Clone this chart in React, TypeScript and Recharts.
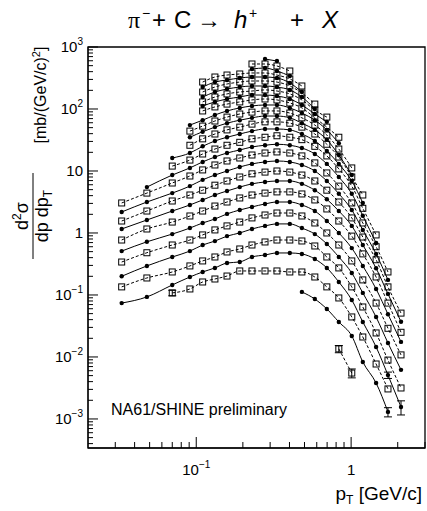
import React from "react";
import { LineChart, Line, XAxis, YAxis, ReferenceArea, ErrorBar } from "recharts";

// pT bin positions (GeV/c)
const PT = [
  0.033, 0.048, 0.07, 0.091, 0.11, 0.132, 0.158, 0.191, 0.229, 0.278, 0.332,
  0.402, 0.481, 0.583, 0.697, 0.833, 1.01, 1.19, 1.45, 1.73, 2.1,
];

// spectra, bottom of the plot to top; "start" is the first pT bin index
const openB = [0.0135, 0.0055];
const fullA = [0.112, 0.086, 0.0595, 0.0367, 0.0218, 0.0083, 0.0038, 0.0013];
const openX = [
  0.108, 0.125, 0.162, 0.181, 0.202, 0.244, 0.244, 0.244, 0.244, 0.235, 0.235,
  0.195, 0.135, 0.0895, 0.0442, 0.021, 0.0077, 0.00305,
];
const full0 = [
  0.074, 0.093, 0.145, 0.195, 0.235, 0.273, 0.328, 0.341, 0.41, 0.442, 0.476,
  0.476, 0.459, 0.381, 0.273, 0.162, 0.083, 0.0367, 0.0145, 0.0051, 0.00156,
];
const open1 = [
  0.135, 0.188, 0.235, 0.294, 0.354, 0.41, 0.494, 0.552, 0.64, 0.716, 0.77,
  0.77, 0.743, 0.617, 0.41, 0.273, 0.135, 0.064, 0.0244, 0.0089, 0.00316,
];
const full2 = [
  0.2, 0.294, 0.41, 0.51, 0.64, 0.74, 0.89, 1.0, 1.16, 1.3, 1.4, 1.4, 1.2,
  0.96, 0.665, 0.41, 0.226, 0.108, 0.044, 0.0168, 0.0062,
];
const open3 = [
  0.34, 0.48, 0.64, 0.77, 0.93, 1.12, 1.3, 1.5, 1.75, 1.95, 2.1, 2.1, 1.88,
  1.45, 1.0, 0.64, 0.354, 0.175, 0.074, 0.029, 0.0108,
];
const full4 = [
  0.51, 0.72, 0.96, 1.2, 1.45, 1.68, 2.03, 2.35, 2.63, 2.94, 3.16, 3.16, 2.83,
  2.26, 1.56, 1.0, 0.57, 0.294, 0.125, 0.049, 0.0175,
];
const open5 = [
  0.77, 1.16, 1.5, 1.88, 2.26, 2.72, 3.16, 3.67, 4.1, 4.4, 4.6, 4.6, 4.26, 3.41,
  2.44, 1.56, 0.89, 0.46, 0.195, 0.074, 0.025,
];
const full6 = [
  1.16, 1.62, 2.26, 2.83, 3.41, 4.1, 4.76, 5.5, 6.2, 6.65, 6.9, 6.9, 6.2, 4.9,
  3.5, 2.26, 1.3, 0.64, 0.27, 0.104, 0.037,
];
const open7 = [
  1.56, 2.26, 3.28, 4.1, 4.9, 5.9, 6.9, 8.0, 9.0, 9.6, 10, 9.6, 8.6, 6.9, 4.9,
  3.16, 1.75, 0.86, 0.37, 0.135, 0.051,
];
const full8 = [
  2.18, 3.16, 4.4, 5.7, 7.2, 8.6, 10, 11.6, 13, 14, 14.5, 14, 12.5, 10, 6.9,
  4.3, 2.35, 1.12, 0.46, 0.175,
];
const open9 = [
  3.05, 4.4, 6.4, 8.3, 10.4, 12.5, 14.5, 16.2, 18.1, 19.5, 20.3, 19.5, 17.5,
  13.5, 9.3, 5.7, 3.05, 1.45, 0.6, 0.235,
];
const full10 = [
  5.5, 8.6, 11.2, 14, 16.8, 19.5, 21.8, 24.4, 26, 27, 26, 23.5, 18.8, 13, 8.0,
  4.3, 1.9, 0.69,
];
const open11 = [
  12, 15, 18.8, 22.6, 26, 29, 33, 35, 37, 35, 32, 25, 17.5, 10.8, 5.7, 2.5,
  0.93,
];
const full12 = [
  16.2, 19.5, 25, 30.5, 35, 39.5, 44, 47.6, 47.6, 46, 39.5, 30.5, 21, 13, 6.9,
  3.05,
];
const open13 = [26, 33, 39.5, 46, 51, 57, 62, 62, 59, 51, 39.5, 27, 16.8, 8.0, 4.1];
const full14 = [35, 43, 51, 59, 66, 72, 77, 77, 72, 59, 46, 32, 18.1, 8.6];
const open15 = [44, 53, 64, 74, 83, 89, 93, 93, 86, 72, 55, 38, 22.6, 11.2];
const full16 = [55, 66, 80, 93, 104, 112, 116, 116, 104, 86, 66, 46, 28];
const open17 = [93, 108, 120, 130, 140, 145, 140, 125, 104, 72, 51, 35];
const full18 = [112, 130, 145, 156, 168, 168, 162, 145, 116, 83, 62];
const open19 = [130, 156, 175, 188, 195, 203, 195, 175, 140, 96, 74];
const full20 = [156, 188, 210, 226, 235, 235, 226, 203, 156, 100];
const open21 = [188, 226, 253, 272, 283, 283, 272, 235, 181, 120];
const full22 = [226, 272, 294, 316, 328, 328, 316, 263, 188];
const open23 = [272, 328, 353, 367, 381, 381, 353, 305, 235];
const full24 = [442, 458, 410, 341];
const open25 = [532, 532, 494, 410];
const full26 = [640, 594];

// visible error bars (same indexing as the values; null = too small to see)
const errB = [0.0018, 0.0009];
const errA = [null, null, null, null, null, null, null, 0.00022];
const errX = [0.011];
const err0 = [null, null, null, null, null, null, null, null, null, null, null,
  null, null, null, null, null, null, null, null, 0.0006, 0.0004];

const SERIES = [
  { key: "b", start: 15, values: openB, open: true, err: errB },
  { key: "a", start: 12, values: fullA, open: false, err: errA },
  { key: "x", start: 2, values: openX, open: true, err: errX },
  { key: "s0", start: 0, values: full0, open: false, err: err0 },
  { key: "s1", start: 0, values: open1, open: true },
  { key: "s2", start: 0, values: full2, open: false },
  { key: "s3", start: 0, values: open3, open: true },
  { key: "s4", start: 0, values: full4, open: false },
  { key: "s5", start: 0, values: open5, open: true },
  { key: "s6", start: 0, values: full6, open: false },
  { key: "s7", start: 0, values: open7, open: true },
  { key: "s8", start: 0, values: full8, open: false },
  { key: "s9", start: 0, values: open9, open: true },
  { key: "s10", start: 1, values: full10, open: false },
  { key: "s11", start: 2, values: open11, open: true },
  { key: "s12", start: 2, values: full12, open: false },
  { key: "s13", start: 3, values: open13, open: true },
  { key: "s14", start: 3, values: full14, open: false },
  { key: "s15", start: 3, values: open15, open: true },
  { key: "s16", start: 3, values: full16, open: false },
  { key: "s17", start: 4, values: open17, open: true },
  { key: "s18", start: 4, values: full18, open: false },
  { key: "s19", start: 4, values: open19, open: true },
  { key: "s20", start: 4, values: full20, open: false },
  { key: "s21", start: 4, values: open21, open: true },
  { key: "s22", start: 4, values: full22, open: false },
  { key: "s23", start: 4, values: open23, open: true },
  { key: "s24", start: 8, values: full24, open: false },
  { key: "s25", start: 8, values: open25, open: true },
  { key: "s26", start: 9, values: full26, open: false },
];

const X_MAJOR = [0.1, 1];
const X_LABELS = [["10", "-1"], ["1", ""]];
const X_TICKS = [
  0.03, 0.04, 0.05, 0.06, 0.07, 0.08, 0.09, 0.1, 0.2, 0.3, 0.4, 0.5, 0.6, 0.7,
  0.8, 0.9, 1, 2, 3,
];
const Y_MAJOR = [1e-3, 1e-2, 1e-1, 1, 10, 100, 1000];
const Y_LABELS = [
  ["10", "-3"], ["10", "-2"], ["10", "-1"], ["1", ""], ["10", ""], ["10", "2"], ["10", "3"],
];
const Y_TICKS = [0.0004, 0.0005, 0.0006, 0.0007, 0.0008, 0.0009].concat(
  ...[-3, -2, -1, 0, 1, 2].map((e) =>
    [1, 2, 3, 4, 5, 6, 7, 8, 9].map((m) => +(m * Math.pow(10, e)).toPrecision(3))
  ),
  [1000]
);

const FONT = "'Liberation Sans', Arial, sans-serif";

const data = PT.map((pt, i) => {
  const row: Record<string, number> = { pt };
  SERIES.forEach((s) => {
    const v = s.values[i - s.start];
    if (i >= s.start && v !== undefined) row[s.key] = v;
    const e = s.err ? s.err[i - s.start] : null;
    if (i >= s.start && e != null) row[s.key + "Err"] = e;
  });
  return row;
});

const majorIndex = (list: number[], v: number) =>
  list.findIndex((m) => Math.abs(m - v) / m < 1e-6);

function YTick(props: any) {
  const { x, y, payload } = props;
  const i = majorIndex(Y_MAJOR, payload.value);
  const [base, exp] = i >= 0 ? Y_LABELS[i] : ["", ""];
  return (
    <g>
      <line x1={88} x2={88 + (i >= 0 ? 10 : 5)} y1={y} y2={y} stroke="#000" />
      {i >= 0 && (
        <text x={x - 5} y={y + 5} textAnchor="end" fontFamily={FONT} fontSize={15} fill="#000">
          {base}
          {exp && (
            <tspan dy={-7} fontSize={10}>
              {exp.replace("-", "\u2212")}
            </tspan>
          )}
        </text>
      )}
    </g>
  );
}

function XTick(props: any) {
  const { x, y, payload } = props;
  const i = majorIndex(X_MAJOR, payload.value);
  const [base, exp] = i >= 0 ? X_LABELS[i] : ["", ""];
  return (
    <g>
      <line x1={x} x2={x} y1={448} y2={448 - (i >= 0 ? 11 : 6)} stroke="#000" />
      {i >= 0 && (
        <text x={x} y={y + 27} textAnchor="middle" fontFamily={FONT} fontSize={15} fill="#000">
          {base}
          {exp && (
            <tspan dy={-7} fontSize={10}>
              {exp.replace("-", "\u2212")}
            </tspan>
          )}
        </text>
      )}
    </g>
  );
}

const makeDot = (open: boolean) => (props: any) => {
  const { cx, cy, index, dataKey, payload } = props;
  const k = `${dataKey}-${index}`;
  if (cx == null || cy == null || payload?.[dataKey] == null) return <g key={k} />;
  return open ? (
    <rect key={k} x={cx - 3} y={cy - 3} width={6} height={6} fill="none" stroke="#000" strokeWidth={1} />
  ) : (
    <circle key={k} cx={cx} cy={cy} r={2.2} fill="#000" />
  );
};

// glyphs of the title, placed one by one as in the reference
const TITLE = [
  { t: "π", x: 128, y: 28, size: 24, serif: true },
  { t: "−", x: 142, y: 18, size: 14 },
  { t: "+", x: 152, y: 28, size: 24 },
  { t: "C", x: 174, y: 28, size: 24 },
  { t: "→", x: 197, y: 28, size: 24 },
  { t: "h", x: 234, y: 28, size: 24, italic: true },
  { t: "+", x: 249, y: 18, size: 14 },
  { t: "+", x: 290, y: 28, size: 24 },
  { t: "X", x: 322, y: 28, size: 24, italic: true },
];

export default function App() {
  return (
    <div style={{ position: "absolute", left: 0, top: 0, width: 427, height: 511, background: "#fff" }}>
      <LineChart width={427} height={511} data={data} margin={{ top: 47, right: 2, bottom: 0, left: 0 }}>
        <XAxis
          dataKey="pt"
          type="number"
          scale="log"
          domain={[0.02, 3]}
          allowDataOverflow
          ticks={X_TICKS}
          interval={0}
          height={63}
          tickSize={0}
          tickMargin={0}
          tickLine={false}
          tick={XTick}
          axisLine={{ stroke: "#000" }}
        />
        <YAxis
          type="number"
          scale="log"
          domain={[3.4e-4, 1000]}
          allowDataOverflow
          ticks={Y_TICKS}
          interval={0}
          width={88}
          tickSize={0}
          tickMargin={0}
          tickLine={false}
          tick={YTick}
          axisLine={{ stroke: "#000" }}
        />
        <ReferenceArea x1={0.02} x2={3} y1={3.4e-4} y2={1000} fill="none" stroke="#000" strokeWidth={1.3} ifOverflow="visible" />
        {SERIES.map((s) => (
          <Line
            key={s.key}
            dataKey={s.key}
            type="monotone"
            stroke="#000"
            strokeWidth={1}
            strokeDasharray={s.open ? "3 2" : undefined}
            dot={makeDot(s.open)}
            activeDot={false}
            connectNulls={false}
            isAnimationActive={false}
          >
            {s.err && (
              <ErrorBar dataKey={s.key + "Err"} direction="y" width={4} stroke="#000" strokeWidth={1} isAnimationActive={false} />
            )}
          </Line>
        ))}
      </LineChart>
      <svg width={427} height={511} style={{ position: "absolute", left: 0, top: 0, pointerEvents: "none" }}>
        {TITLE.map((g, i) => (
          <text
            key={i}
            x={g.x}
            y={g.y}
            fontFamily={g.serif ? "'Liberation Serif', serif" : FONT}
            fontStyle={g.italic ? "italic" : "normal"}
            fontSize={g.size}
            fill="#000"
          >
            {g.t}
          </text>
        ))}
        <g transform="translate(46, 95) rotate(-90)">
          <text x={0} y={0} textAnchor="middle" fontFamily={FONT} fontSize={16} fill="#000">
            [mb/(GeV/c)
            <tspan dy={-6} fontSize={11}>2</tspan>
            <tspan dy={6}>]</tspan>
          </text>
        </g>
        <g transform="translate(0, 216) rotate(-90)">
          <text x={0} y={28} textAnchor="middle" fontFamily={FONT} fontSize={18} fill="#000">
            d<tspan dy={-7} fontSize={12}>2</tspan>
            <tspan dy={7}>σ</tspan>
          </text>
          <line x1={-43} x2={43} y1={33} y2={33} stroke="#000" strokeWidth={1} />
          <text x={0} y={48} textAnchor="middle" fontFamily={FONT} fontSize={18} fill="#000">
            dp dp<tspan dy={4} fontSize={12}>T</tspan>
          </text>
        </g>
        <text x={111} y={415} fontFamily={FONT} fontSize={16} fill="#000">
          NA61/SHINE preliminary
        </text>
        <text x={422} y={500} textAnchor="end" fontFamily={FONT} fontSize={19} fill="#000">
          p<tspan dy={4} fontSize={12}>T</tspan>
          <tspan dy={-4}> [GeV/c]</tspan>
        </text>
      </svg>
    </div>
  );
}
